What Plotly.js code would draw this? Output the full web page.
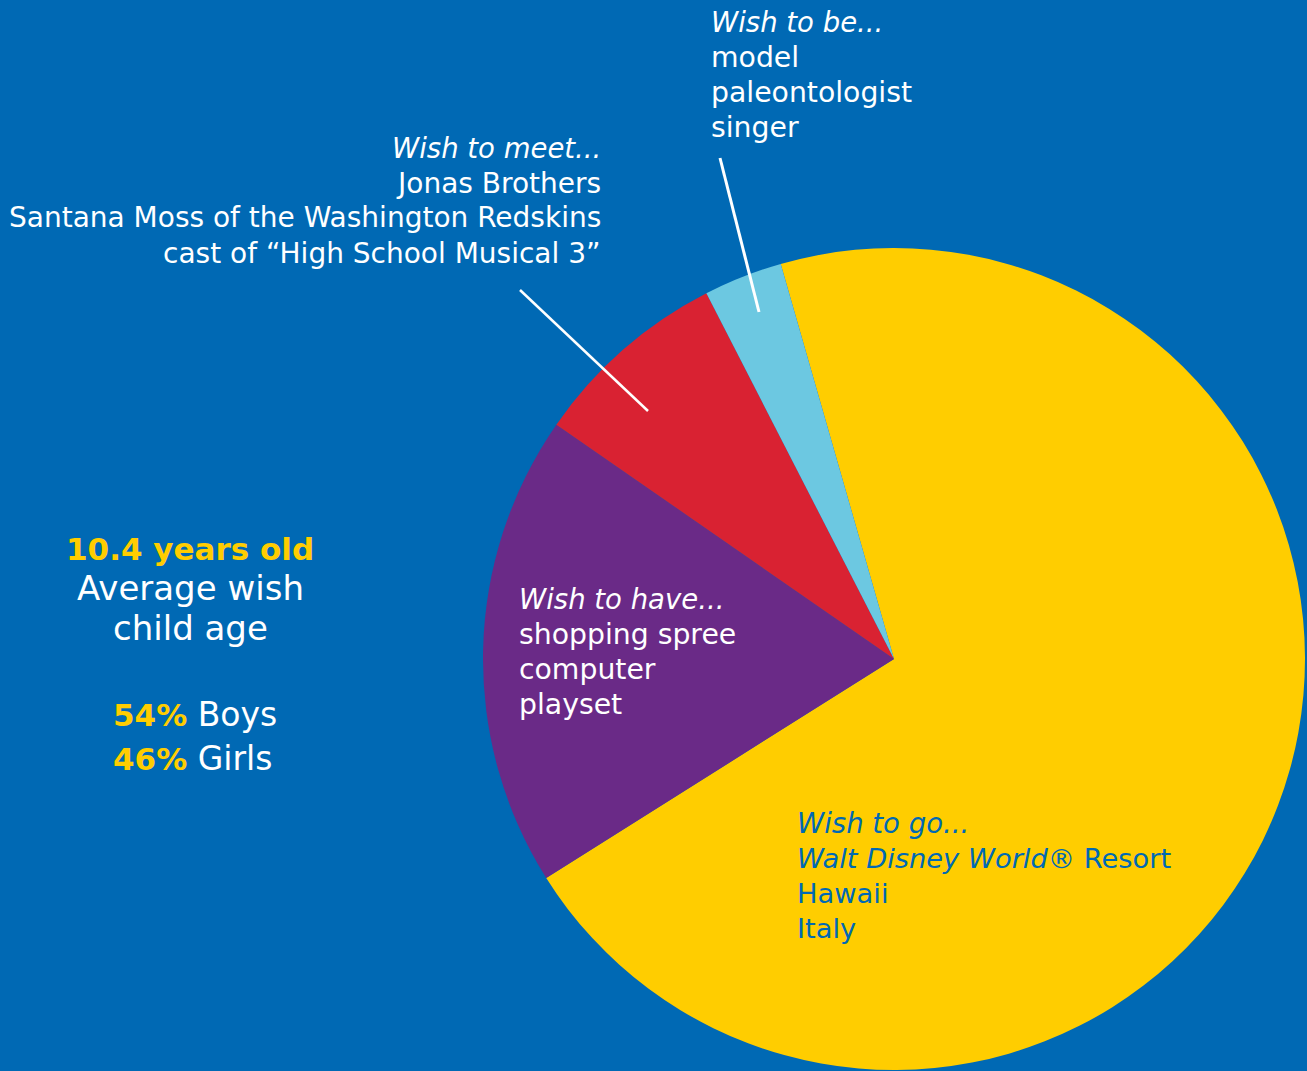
<!DOCTYPE html>
<html><head><meta charset="utf-8">
<script src="https://cdn.plot.ly/plotly-3.0.1.min.js"></script>
<style>html,body{margin:0;padding:0;background:#0069B4;overflow:hidden}</style>
</head><body><div id="chart" style="width:1307px;height:1071px"></div>
<script>
// ---- data ----
const categories = ['Wish to go', 'Wish to have', 'Wish to meet', 'Wish to be'];
const shares = [70.5, 18.6, 7.8, 3.1];
const sliceColors = ['#FFCD00', '#6A2A87', '#D92232', '#6CC8E1'];
const goItems = ['<i>Walt Disney World®</i> Resort', 'Hawaii', 'Italy'];
const haveItems = ['shopping spree', 'computer', 'playset'];
const meetItems = ['Jonas Brothers', 'Santana Moss of the Washington Redskins', 'cast of “High School Musical 3”'];
const beItems = ['model', 'paleontologist', 'singer'];
const avgAge = '10.4 years old';
const ageLines = ['Average wish', 'child age'];
const genderPct = ['54%', '46%'];
const genderLabels = ['Boys', 'Girls'];

// ---- layout helpers ----
const W = 1307, H = 1071;
const BG = '#0069B4', YEL = '#FFCD00', WHITE = '#FFFFFF';
const FONT = 'DejaVu Sans';
const px = x => x / W;
const py = y => 1 - y / H;

const pieCx = 894, pieCy = 659, pieR = 411;

const trace = {
  type: 'pie',
  labels: categories,
  values: shares,
  sort: false,
  direction: 'clockwise',
  rotation: 344,
  marker: {colors: sliceColors, line: {width: 0}},
  textinfo: 'none',
  hoverinfo: 'skip',
  showlegend: false,
  domain: {x: [px(pieCx - pieR), px(pieCx + pieR)], y: [py(pieCy + pieR), py(pieCy - pieR)]}
};

function txt(x, y, xanchor, text, size, color) {
  return {
    xref: 'paper', yref: 'paper', x: px(x), y: py(y),
    xanchor: xanchor, yanchor: 'middle', align: xanchor === 'center' ? 'center' : xanchor,
    showarrow: false, text: text,
    font: {family: FONT, size: size, color: color}
  };
}
function block(x, y0, xanchor, title, items, color, tSize, iSize) {
  const out = [txt(x, y0, xanchor, '<i>' + title + '</i>', tSize, color)];
  items.forEach((it, i) => out.push(txt(x, y0 + 35 * (i + 1), xanchor, it, iSize, color)));
  return out;
}
const yel = s => '<b><span style="color:' + YEL + '">' + s + '</span></b>';
const yelSmall = s => '<b><span style="color:' + YEL + ';font-size:31px">' + s + '</span></b>';

const annotations = [].concat(
  block(709, 22, 'left', 'Wish to be...', beItems, WHITE, 27.5, 28.3),
  block(603, 148, 'right', 'Wish to meet...', meetItems, WHITE, 27.5, 28),
  block(517, 599, 'left', 'Wish to have...', haveItems, WHITE, 27.5, 28.3),
  block(795, 823, 'left', 'Wish to go...', goItems, BG, 27.5, 27.3),
  [
    txt(190, 549, 'center', yel(avgAge), 31, WHITE),
    txt(190, 588, 'center', ageLines[0], 34, WHITE),
    txt(190, 628, 'center', ageLines[1], 34, WHITE),
    txt(195, 714, 'center', yelSmall(genderPct[0]) + ' ' + genderLabels[0], 33, WHITE),
    txt(192, 758, 'center', yelSmall(genderPct[1]) + ' ' + genderLabels[1], 33, WHITE)
  ]
);

const shapes = [
  {type: 'line', xref: 'paper', yref: 'paper', x0: px(720), y0: py(158), x1: px(759), y1: py(312), line: {color: WHITE, width: 3}},
  {type: 'line', xref: 'paper', yref: 'paper', x0: px(520), y0: py(290), x1: px(648), y1: py(411), line: {color: WHITE, width: 2.5}}
];

const layout = {
  width: W, height: H,
  margin: {l: 0, r: 0, t: 0, b: 0, pad: 0},
  paper_bgcolor: BG, plot_bgcolor: BG,
  showlegend: false,
  annotations: annotations,
  shapes: shapes
};

Plotly.newPlot('chart', [trace], layout, {displayModeBar: false, staticPlot: true});
</script>
</body></html>
